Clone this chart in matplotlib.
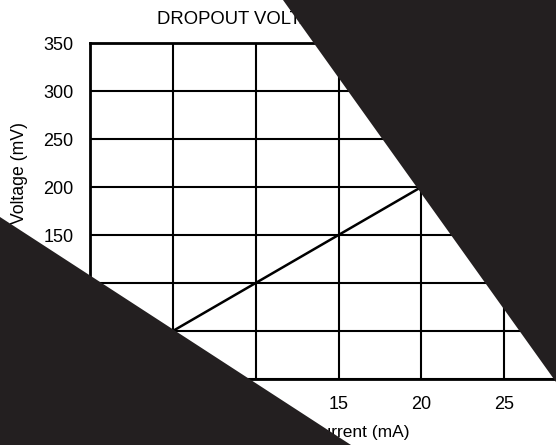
import matplotlib
matplotlib.use("Agg")
import matplotlib.pyplot as plt
from matplotlib.patches import Polygon

plt.rcParams['font.family'] = ['Liberation Sans', 'DejaVu Sans']

# data
current = [5, 10, 15, 20]
voltage = [50, 100, 150, 200]
x_ticks = [0, 5, 10, 15, 20, 25]
y_ticks = [0, 50, 100, 150, 200, 250, 300, 350]

W, H = 556, 445
fig = plt.figure(figsize=(W / 100, H / 100), dpi=100)

# axes run past the right edge of the picture (cropped datasheet graph)
left, right = 90 / W, 587 / W
bottom, top = 1 - 379 / H, 1 - 43 / H
ax = fig.add_axes([left, bottom, right - left, top - bottom])

ax.plot(current, voltage, color='black', lw=1.8, zorder=3)

ax.set_xlim(0, 30)
ax.set_ylim(0, 350)
ax.set_xticks(x_ticks)
ax.set_yticks(y_ticks)
ax.grid(True, color='black', lw=1.5)
ax.set_axisbelow(True)
ax.tick_params(length=0, labelsize=13, pad=12)
for s in ax.spines.values():
    s.set_linewidth(2.0)
    s.set_color('black')

fig.text(157 / W, 1 - 24 / H, "DROPOUT VOLTAGE vs. OUTPUT CURRENT",
         fontsize=13.3, ha='left', va='baseline')
fig.text(24 / W, 1 - 122 / H, "Voltage (mV)", rotation=90,
         rotation_mode='anchor', fontsize=12.7, ha='right', va='baseline')
fig.text(410 / W, 1 - 437 / H, "Output Current (mA)",
         fontsize=12.5, ha='right', va='baseline')

# black occluding triangles
dark = '#231f20'
tri1 = [(283 / W, 1.0), (1.0, 1.0), (1.0, 1 - 382 / H)]
tri2 = [(0.0, 1 - 217 / H), (0.0, 0.0), (351 / W, 0.0)]
for pts in (tri1, tri2):
    fig.add_artist(Polygon(pts, closed=True, transform=fig.transFigure,
                           facecolor=dark, edgecolor='none', zorder=10))

fig.savefig("out.png", dpi=100)
